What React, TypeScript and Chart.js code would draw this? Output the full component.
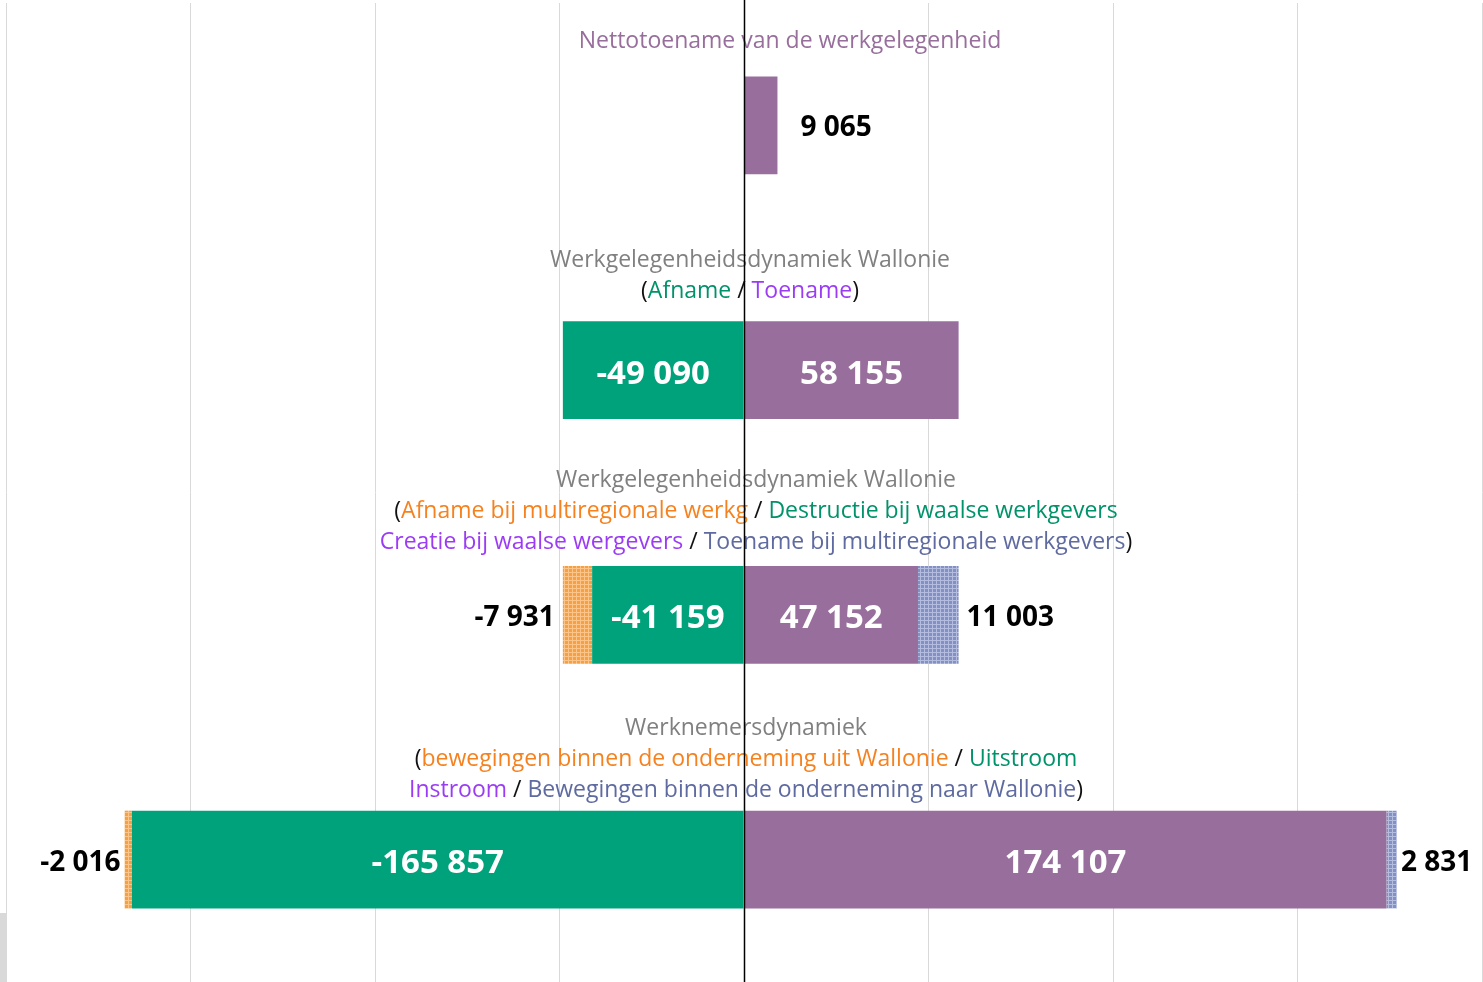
import React, { useEffect, useRef } from "react";
import { Chart, registerables } from "chart.js";

Chart.register(...registerables);

const categories = ["Netto", "Dynamiek1", "Dynamiek2", "Werknemers"];
const uitstroom = [null, -49090, -41159, -165857];
const afnameMulti = [null, null, -7931, -2016];
const instroom = [9065, 58155, 47152, 174107];
const toenameMulti = [null, null, 11003, 2831];
const xTicks = [-200000, -150000, -100000, -50000, 0, 50000, 100000, 150000, 200000];

const GREEN = "#00A27C";
const PURPLE = "#986E9C";
const ORANGE = "#F7A043";
const BLUE = "#8290C2";
const GRAY = "#808080";
const TXT_GREEN = "#00926A";
const TXT_ORANGE = "#F5821F";
const TXT_VIOLET = "#9B3CF5";
const TXT_BLUE = "#5E6AA0";
const BLACK = "#111111";

type Seg = { t: string; c: string };
const titles: Seg[][][] = [
  [[{ t: "Nettotoename van de werkgelegenheid", c: PURPLE }]],
  [
    [{ t: "Werkgelegenheidsdynamiek Wallonie", c: GRAY }],
    [
      { t: "(", c: BLACK },
      { t: "Afname", c: TXT_GREEN },
      { t: " / ", c: BLACK },
      { t: "Toename", c: TXT_VIOLET },
      { t: ")", c: BLACK },
    ],
  ],
  [
    [{ t: "Werkgelegenheidsdynamiek Wallonie", c: GRAY }],
    [
      { t: "(", c: BLACK },
      { t: "Afname bij multiregionale werkg", c: TXT_ORANGE },
      { t: " / ", c: BLACK },
      { t: "Destructie bij waalse werkgevers", c: TXT_GREEN },
    ],
    [
      { t: "Creatie bij waalse wergevers", c: TXT_VIOLET },
      { t: " / ", c: BLACK },
      { t: "Toename bij multiregionale werkgevers", c: TXT_BLUE },
      { t: ")", c: BLACK },
    ],
  ],
  [
    [{ t: "Werknemersdynamiek", c: GRAY }],
    [
      { t: "(", c: BLACK },
      { t: "bewegingen binnen de onderneming uit Wallonie", c: TXT_ORANGE },
      { t: " / ", c: BLACK },
      { t: "Uitstroom", c: TXT_GREEN },
    ],
    [
      { t: "Instroom", c: TXT_VIOLET },
      { t: " / ", c: BLACK },
      { t: "Bewegingen binnen de onderneming naar Wallonie", c: TXT_BLUE },
      { t: ")", c: BLACK },
    ],
  ],
];

// style constants for title/label placement (pixels relative to zero line / bar centre)
const TITLE_DX = [46, 6, 12, 2];
const TITLE_LAST_DY = [-84, -79, -72, -69];
const LINE_H = 31;
const OUTER_GAP = [23, 8, 8, 4];
const FONT = "'Open Sans', 'Noto Sans', sans-serif";

function makePattern(base: string, light: string): CanvasPattern | string {
  const c = document.createElement("canvas");
  c.width = 4;
  c.height = 4;
  const g = c.getContext("2d");
  if (!g) return base;
  g.fillStyle = base;
  g.fillRect(0, 0, 4, 4);
  g.fillStyle = light;
  g.fillRect(0, 0, 4, 1);
  g.fillRect(0, 0, 1, 4);
  const p = g.createPattern(c, "repeat");
  return p || base;
}

function fmt(v: number): string {
  const s = Math.abs(Math.round(v)).toString();
  const parts: string[] = [];
  for (let i = s.length; i > 0; i -= 3) parts.unshift(s.slice(Math.max(0, i - 3), i));
  return (v < 0 ? "-" : "") + parts.join(" ");
}

export default function App() {
  const ref = useRef<HTMLCanvasElement | null>(null);

  useEffect(() => {
    if (!ref.current) return;
    const orangePat = makePattern(ORANGE, "#FBC58A");
    const bluePat = makePattern(BLUE, "#B4BDE0");

    const labelsPlugin = {
      id: "labelsPlugin",
      afterDatasetsDraw(chart: any) {
        const ctx = chart.ctx;
        ctx.save();
        chart.data.datasets.forEach((ds: any, di: number) => {
          const meta = chart.getDatasetMeta(di);
          meta.data.forEach((el: any, i: number) => {
            const v = ds.data[i];
            if (v === null || v === undefined) return;
            const { x, base, y } = el.getProps(["x", "base", "y"], true);
            const w = Math.abs(x - base);
            const inner = ds.kind === "inner" && w > 80;
            ctx.textBaseline = "middle";
            if (inner) {
              ctx.font = `bold 33px ${FONT}`;
              ctx.fillStyle = "#ffffff";
              ctx.textAlign = "center";
              ctx.fillText(fmt(v), (x + base) / 2, y + 4);
            } else {
              ctx.font = `bold 28px ${FONT}`;
              ctx.fillStyle = "#000000";
              const gap = OUTER_GAP[i];
              if (v < 0) {
                ctx.textAlign = "right";
                ctx.fillText(fmt(v), x - gap, y + 3);
              } else {
                ctx.textAlign = "left";
                ctx.fillText(fmt(v), x + gap, y + 3);
              }
            }
          });
        });
        ctx.restore();
      },
      afterDraw(chart: any) {
        const ctx = chart.ctx;
        const xs = chart.scales.x;
        const ys = chart.scales.y;
        const zero = xs.getPixelForValue(0);
        ctx.save();
        ctx.font = `23px ${FONT}`;
        ctx.textBaseline = "middle";
        ctx.textAlign = "left";
        titles.forEach((lines, ci) => {
          const cy = ys.getPixelForValue(ci);
          const cx = zero + TITLE_DX[ci];
          lines.forEach((segs, li) => {
            const ly = cy + TITLE_LAST_DY[ci] - (lines.length - 1 - li) * LINE_H;
            const total = segs.reduce((a, s) => a + ctx.measureText(s.t).width, 0);
            let px = cx - total / 2;
            segs.forEach((s) => {
              ctx.fillStyle = s.c;
              ctx.fillText(s.t, px, ly);
              px += ctx.measureText(s.t).width;
            });
          });
        });
        ctx.strokeStyle = "#000000";
        ctx.lineWidth = 1.5;
        ctx.beginPath();
        ctx.moveTo(Math.round(zero) + 0.5, 0);
        ctx.lineTo(Math.round(zero) + 0.5, chart.height);
        ctx.stroke();
        ctx.restore();
      },
    };

    const chart = new Chart(ref.current, {
      type: "bar",
      data: {
        labels: categories,
        datasets: [
          { label: "Uitstroom", data: uitstroom, backgroundColor: GREEN, kind: "inner" } as any,
          { label: "Afname multiregionaal", data: afnameMulti, backgroundColor: orangePat, kind: "outer" } as any,
          { label: "Instroom", data: instroom, backgroundColor: PURPLE, kind: "inner" } as any,
          { label: "Toename multiregionaal", data: toenameMulti, backgroundColor: bluePat, kind: "outer" } as any,
        ],
      },
      options: {
        indexAxis: "y",
        animation: false,
        responsive: false,
        maintainAspectRatio: false,
        layout: { padding: { left: 6, right: 1, top: 3, bottom: 0 } },
        datasets: { bar: { categoryPercentage: 0.4, barPercentage: 1, borderWidth: 0 } },
        plugins: { legend: { display: false }, tooltip: { enabled: false }, title: { display: false } },
        scales: {
          x: {
            stacked: true,
            min: xTicks[0],
            max: xTicks[xTicks.length - 1],
            afterBuildTicks: (s: any) => {
              s.ticks = xTicks.map((v) => ({ value: v }));
            },
            ticks: { display: false },
            grid: { color: "#d9d9d9", lineWidth: 1, drawTicks: false, tickLength: 0 },
            border: { display: false },
          },
          y: {
            stacked: true,
            display: false,
            grid: { display: false },
          },
        },
      },
      plugins: [labelsPlugin],
    } as any);
    return () => chart.destroy();
  }, []);

  return (
    <div style={{ position: "fixed", left: 0, top: 0, width: 1483, height: 982, background: "#ffffff" }}>
      <canvas ref={ref} width={1483} height={982} style={{ width: 1483, height: 982, display: "block" }} />
      <div style={{ position: "absolute", left: 0, top: 913, width: 6, height: 69, background: "#d9d9d9" }} />
    </div>
  );
}
